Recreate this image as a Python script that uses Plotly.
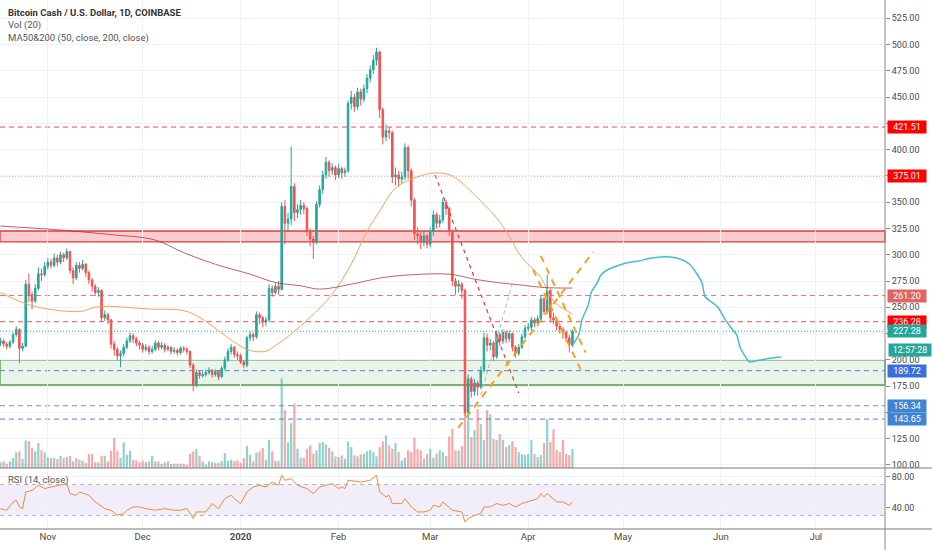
import pandas as pd
import plotly.graph_objects as go

### Data ---------------------------------------------------------
# BCH/USD daily candles, 17 Oct 2019 -> 15 Apr 2020
first_day = "2019-10-17"

opens = [216, 218, 215, 213, 217, 224, 229, 211, 213, 272, 262, 256, 268, 282, 281,  # Oct
         289, 293, 290, 297, 293, 300, 297, 303, 285, 278, 290, 287, 291, 283, 276, 270, 264, 266, 240, 243, 238, 215, 210, 204, 206, 212, 218, 223, 220, 216,  # Nov
         214, 210, 212, 208, 210, 216, 212, 214, 210, 212, 208, 209, 207, 211, 210, 208, 195, 176, 188, 185, 186, 188, 190, 186, 189, 184, 192, 200, 208, 212, 205,  # Dec
         204, 198, 195, 221, 224, 222, 243, 240, 236, 238, 268, 264, 270, 267, 346, 330, 334, 365, 340, 343, 347, 344, 322, 315, 312, 348, 362, 376, 388, 380, 383,  # Jan
         376, 382, 378, 380, 444, 450, 441, 455, 448, 458, 468, 476, 485, 493, 438, 412, 418, 416, 374, 376, 372, 374, 402, 380, 352, 320, 318, 312, 318,  # Feb
         310, 322, 338, 330, 333, 350, 344, 322, 275, 270, 272, 266, 150, 182, 170, 178, 174, 190, 221, 214, 216, 203, 224, 218, 226, 220, 225, 212, 206, 212, 222,  # Mar
         230, 231, 238, 235, 239, 258, 246, 266, 240, 238, 232, 229, 226, 221, 214]  # Apr

highs = [221, 220, 217, 219, 226, 232, 230, 216, 276, 282, 265, 272, 288, 287, 293,
         297, 296, 301, 300, 303, 302, 306, 304, 288, 293, 293, 295, 292, 285, 278, 272, 269, 267, 247, 245, 239, 218, 212, 209, 215, 221, 226, 225, 222, 218,
         216, 215, 214, 213, 219, 218, 217, 216, 214, 213, 212, 211, 213, 213, 212, 209, 197, 191, 190, 189, 191, 193, 191, 191, 190, 194, 203, 211, 215, 213, 208,
         206, 200, 223, 227, 226, 246, 245, 242, 241, 272, 271, 273, 275, 350, 352, 340, 403, 368, 348, 352, 350, 346, 325, 318, 351, 366, 380, 393, 390, 387, 385,
         386, 384, 383, 447, 456, 453, 459, 458, 462, 472, 480, 490, 497, 494, 440, 424, 421, 418, 383, 380, 379, 406, 404, 382, 354, 326, 322, 322, 320,
         326, 342, 340, 338, 354, 352, 346, 324, 278, 276, 274, 268, 186, 184, 182, 180, 194, 226, 225, 220, 218, 228, 226, 229, 228, 228, 226, 214, 215, 225, 233,
         235, 241, 240, 242, 262, 260, 281, 268, 245, 240, 235, 231, 228, 224, 229]

lows = [213, 212, 210, 211, 215, 222, 197, 208, 212, 255, 248, 254, 266, 275, 279,
        286, 287, 288, 289, 291, 293, 295, 282, 272, 276, 283, 285, 279, 272, 265, 261, 260, 236, 237, 234, 211, 204, 199, 193, 203, 210, 216, 216, 213, 210,
        207, 208, 205, 206, 208, 209, 210, 207, 208, 205, 206, 204, 205, 207, 205, 192, 170, 174, 182, 183, 184, 186, 183, 184, 181, 183, 190, 198, 205, 202, 200,
        196, 192, 193, 218, 218, 220, 234, 231, 232, 236, 260, 262, 262, 266, 310, 322, 328, 332, 335, 338, 339, 318, 308, 296, 310, 345, 358, 372, 374, 376, 371,
        373, 372, 374, 378, 438, 436, 438, 442, 445, 454, 464, 472, 480, 430, 405, 408, 410, 368, 366, 365, 368, 371, 372, 346, 314, 310, 305, 308, 306,
        307, 318, 325, 326, 330, 338, 318, 270, 262, 264, 258, 147, 143.65, 164, 166, 166, 172, 188, 208, 209, 199, 201, 213, 215, 216, 217, 208, 202, 204, 210, 220,
        227, 228, 231, 232, 237, 243, 244, 236, 234, 228, 225, 220, 217, 207, 212]

closes = [218, 215, 213, 217, 224, 229, 211, 213, 272, 262, 256, 268, 282, 281, 289,
          293, 290, 297, 293, 300, 297, 303, 285, 278, 290, 287, 291, 283, 276, 270, 264, 266, 240, 243, 238, 215, 210, 204, 206, 212, 218, 223, 220, 216, 214,
          210, 212, 208, 210, 216, 212, 214, 210, 212, 208, 209, 207, 211, 210, 208, 195, 176, 188, 185, 186, 188, 190, 186, 189, 184, 192, 200, 208, 212, 205, 204,
          198, 195, 221, 224, 222, 243, 240, 236, 238, 268, 264, 270, 267, 346, 330, 334, 365, 340, 343, 347, 344, 322, 315, 312, 348, 362, 376, 388, 380, 383, 376,
          382, 378, 380, 444, 450, 441, 455, 448, 458, 468, 476, 485, 493, 438, 412, 418, 416, 374, 376, 372, 374, 402, 380, 352, 320, 318, 312, 318, 310,
          322, 338, 330, 333, 350, 344, 322, 275, 270, 272, 266, 150, 182, 170, 178, 174, 190, 221, 214, 216, 203, 224, 218, 226, 220, 225, 212, 206, 212, 222, 230,
          231, 238, 235, 239, 258, 246, 266, 240, 238, 232, 229, 226, 221, 214, 227.28]

# volume in thousand BCH (rough bar heights)
volume = [5.7, 6.7, 4.3, 6.7, 10, 15.7, 16.7, 9, 27.7, 27, 20,
          16.7, 25, 17.7, 15.7, 10.7, 10, 10, 9, 12.3, 10,
          11, 12.3, 6.7, 10, 8.3, 7.3, 5, 14.3, 14, 5.7,
          5.7, 12.3, 12.3, 6.7, 17.3, 30.3, 16.7, 10, 25.7, 13.3,
          17.3, 8.3, 7.7, 5.7, 7.3, 6, 6.7, 12.3, 6.7, 6.7,
          4.3, 5.7, 6.7, 4, 4.5, 4.3, 4.3, 4.3, 3.3, 14.3,
          16.7, 19, 12.3, 6.7, 3.3, 6.7, 6, 5, 5, 6.7,
          15, 7.3, 8.3, 6.7, 7.7, 5, 10, 22.3, 13.3, 6.7,
          15.7, 16.7, 20, 8.3, 28.3, 16.7, 7.3, 7.3, 90, 58.3,
          25.7, 45, 64.3, 19.3, 10.3, 10.3, 19.3, 22.7, 14.3, 17.7,
          25, 26, 23.7, 20.3, 16.7, 11.7, 11, 12.7, 9.3, 26.7,
          21, 12.7, 11.7, 13.7, 14.3, 16.7, 18.3, 16, 11.7, 21,
          26.7, 32.7, 22.7, 19.3, 25, 16, 7.7, 10.3, 17.7, 16,
          30.3, 19.3, 17.7, 9.3, 14.3, 19.3, 10.3, 14.3, 17.7, 16,
          12, 31.7, 39.3, 17.7, 17.7, 22, 62, 48, 31, 38,
          59, 44, 28, 58, 54, 29, 28, 34, 28, 21,
          23, 27, 21, 16, 14, 13, 14, 28, 14, 11,
          13, 25, 49, 26, 39, 18, 16, 28, 14, 13, 19]

# moving averages (sampled off the chart)
ma50_dates = ["2019-10-17", "2019-10-27", "2019-11-11", "2019-11-17", "2019-12-03", "2019-12-14",
              "2019-12-19", "2019-12-25", "2019-12-30", "2020-01-04", "2020-01-09", "2020-01-12",
              "2020-01-17", "2020-01-23", "2020-01-30", "2020-02-05", "2020-02-10", "2020-02-14",
              "2020-02-19", "2020-02-25", "2020-03-02", "2020-03-07", "2020-03-10", "2020-03-17",
              "2020-03-22", "2020-03-25", "2020-03-30", "2020-04-05", "2020-04-09", "2020-04-15"]
ma50 = [264, 251.5, 246, 250.6, 248.4, 246.8, 240.4, 227.8, 216.8, 208.9, 208.2, 213.6,
        224.7, 240.4, 262.6, 291, 322.5, 341.5, 363.5, 373, 377.8, 376.2, 371, 351,
        335, 322.5, 297.3, 278.3, 256, 243.7]

ma200_dates = ["2019-10-17", "2019-11-03", "2019-11-20", "2019-12-05", "2019-12-14", "2019-12-24",
               "2020-01-04", "2020-01-12", "2020-01-20", "2020-01-26", "2020-02-05", "2020-02-15",
               "2020-02-24", "2020-03-07", "2020-03-15", "2020-03-22", "2020-03-30", "2020-04-06",
               "2020-04-15"]
ma200 = [327.3, 324, 319.4, 314, 302, 291, 281.5, 273.6, 270.5, 267.3, 272, 278.3,
         280.9, 281.5, 276.8, 273.6, 271.1, 268.8, 268.3]

# RSI(14)
rsi_dates = ["2019-10-17", "2019-10-19", "2019-10-21", "2019-10-22", "2019-10-23", "2019-10-24",
             "2019-10-25", "2019-10-27", "2019-10-29", "2019-10-31", "2019-11-02", "2019-11-05",
             "2019-11-07", "2019-11-08", "2019-11-10", "2019-11-11", "2019-11-14", "2019-11-16",
             "2019-11-19", "2019-11-21", "2019-11-23", "2019-11-25", "2019-11-26", "2019-11-28",
             "2019-11-30", "2019-12-02", "2019-12-05", "2019-12-08", "2019-12-11", "2019-12-13",
             "2019-12-15", "2019-12-17", "2019-12-18", "2019-12-21", "2019-12-23", "2019-12-25",
             "2019-12-27", "2019-12-29", "2019-12-30", "2020-01-01", "2020-01-03", "2020-01-05",
             "2020-01-07", "2020-01-09", "2020-01-11", "2020-01-13", "2020-01-14", "2020-01-15",
             "2020-01-17", "2020-01-19", "2020-01-22", "2020-01-24", "2020-01-26", "2020-01-28",
             "2020-01-30", "2020-02-01", "2020-02-02", "2020-02-03", "2020-02-04", "2020-02-08",
             "2020-02-11", "2020-02-13", "2020-02-14", "2020-02-16", "2020-02-17", "2020-02-18",
             "2020-02-21", "2020-02-22", "2020-02-24", "2020-02-26", "2020-02-28", "2020-03-01",
             "2020-03-02", "2020-03-04", "2020-03-05", "2020-03-08", "2020-03-11", "2020-03-12",
             "2020-03-13", "2020-03-15", "2020-03-17", "2020-03-18", "2020-03-20", "2020-03-22",
             "2020-03-24", "2020-03-26", "2020-03-28", "2020-03-30", "2020-04-02", "2020-04-04",
             "2020-04-05", "2020-04-06", "2020-04-07", "2020-04-10", "2020-04-12", "2020-04-14",
             "2020-04-15"]
rsi = [38.8, 36.7, 47.4, 49.6, 41.0, 38.8,
       60.3, 62.4, 68.9, 64.6, 66.7, 68.9,
       71.0, 58.2, 56.0, 60.3, 56.0, 47.4,
       38.8, 36.7, 30.2, 32.4, 36.7, 41.0,
       41.0, 38.8, 36.7, 38.8, 36.7, 36.7,
       38.8, 25.9, 34.5, 34.5, 45.3, 38.8,
       51.7, 56.0, 51.7, 45.3, 60.3, 66.7,
       68.9, 66.7, 73.1, 68.9, 81.8, 75.3,
       77.5, 68.9, 64.6, 58.2, 66.7, 68.9,
       71.0, 64.6, 66.7, 64.6, 75.3, 73.1,
       75.3, 81.8, 60.3, 53.9, 56.0, 45.3,
       45.3, 51.7, 41.0, 34.5, 34.5, 36.7,
       43.1, 41.0, 47.4, 36.7, 34.5, 21.6,
       25.9, 30.2, 32.4, 41.0, 41.0, 45.3,
       43.1, 45.3, 41.0, 45.3, 49.6, 51.7,
       58.2, 53.9, 58.2, 47.4, 47.4, 43.1,
       47.4]

# horizontal levels drawn on the chart
resist_zone = [312.2, 322.6]
support_zone = [176.1, 199.9]
level_prices = [421.51, 375.01, 261.20, 236.28, 227.28, 189.72, 156.34, 143.65]

# price scale: labels hidden where a level label sits on them
price_ticks = [100, 125, 150, 175, 200, 225, 250, 275, 300, 325, 350, 375, 400, 425, 450, 475, 500, 525]
price_tick_text = ["100.00", "125.00", "", "175.00", "200.00", "", "250.00", "275.00", "300.00", "325.00",
                   "350.00", "", "400.00", "", "450.00", "475.00", "500.00", "525.00"]

# hand drawn trend lines: (start date, start price, end date, end price)
red_trend = ["2020-03-02 12:00", 376, "2020-03-29", 168.5]
grey_trend = ["2020-03-17", 166.6, "2020-03-27 08:00", 276]
orange_rise = ["2020-03-09 20:00", 135.2, "2020-04-21 14:00", 302.6]
orange_fall_a = ["2020-04-05", 299, "2020-04-19 04:00", 207]
orange_fall_b = ["2020-04-02 12:00", 286, "2020-04-17 14:00", 191]

# projected path (cyan freehand)
proj_dates = ["2020-04-15", "2020-04-17", "2020-04-18", "2020-04-20", "2020-04-21", "2020-04-23",
              "2020-04-24", "2020-04-26", "2020-04-29", "2020-05-02", "2020-05-06", "2020-05-10",
              "2020-05-13", "2020-05-16", "2020-05-19", "2020-05-22", "2020-05-24", "2020-05-26",
              "2020-05-27", "2020-05-29", "2020-05-31", "2020-06-02", "2020-06-04", "2020-06-06",
              "2020-06-07", "2020-06-09", "2020-06-10", "2020-06-12", "2020-06-17", "2020-06-20"]
proj_prices = [214, 223.7, 238, 252.2, 264.6, 274.1,
               280.8, 285.5, 289.3, 292.2, 294.1, 296.9,
               297.9, 297.9, 296, 291.2, 283.6, 273.2,
               259.8, 255.1, 250.3, 239.9, 231.3, 223.7,
               212.3, 201.8, 198, 198.9, 201.8, 202.8]

month_ticks = ["2019-11-01", "2019-12-01", "2020-01-01", "2020-02-01", "2020-03-01",
               "2020-04-01", "2020-05-01", "2020-06-01", "2020-07-01"]
month_labels = ["Nov", "Dec", "<b>2020</b>", "Feb", "Mar", "Apr", "May", "Jun", "Jul"]

dates = pd.date_range(first_day, periods=len(closes), freq="D")
for arr in (opens, highs, lows, volume):
    if len(arr) != len(closes):
        raise ValueError("length mismatch %d vs %d" % (len(arr), len(closes)))

### Style ----------------------------------------------------------
UP = "#26a69a"
DOWN = "#ef5350"
GRID = "#eef1f6"
TXT = "#4a4a4a"
FONT = "Roboto"

level_styles = [  # line colour, dash, label colour
    ("#ef4b5a", "5px,4px", "#ff0000"),
    ("#ef4b5a", "1px,2px", "#ff0000"),
    ("#ea6f7a", "5px,4px", "#e06666"),
    ("#ef4b5a", "5px,4px", "#ff0000"),
    ("#26a69a", "1px,2px", UP),
    ("#5b7fcf", "5px,4px", "#3770dd"),
    ("#7d8bb5", "5px,4px", "#3f83d3"),
    ("#5b7fcf", "5px,4px", "#3f83d3"),
]

fig = go.Figure()

vol_colors = ["rgba(38,166,154,0.5)" if c >= o else "rgba(239,83,80,0.5)" for o, c in zip(opens, closes)]
fig.add_trace(go.Bar(x=dates, y=volume, marker_color=vol_colors, marker_line_width=0,
                     width=0.7 * 86400000, xaxis="x", yaxis="y3", hoverinfo="skip"))

fig.add_trace(go.Candlestick(x=dates, open=opens, high=highs, low=lows, close=closes,
                             increasing=dict(line=dict(color=UP, width=1), fillcolor=UP),
                             decreasing=dict(line=dict(color=DOWN, width=1), fillcolor=DOWN),
                             whiskerwidth=0, xaxis="x", yaxis="y"))

fig.add_trace(go.Scatter(x=ma50_dates, y=ma50, mode="lines", line=dict(color="#f7a25a", width=1, shape="spline"),
                         xaxis="x", yaxis="y"))
fig.add_trace(go.Scatter(x=ma200_dates, y=ma200, mode="lines",
                         line=dict(color="rgba(165,45,70,0.75)", width=1, shape="spline"),
                         xaxis="x", yaxis="y"))
fig.add_trace(go.Scatter(x=proj_dates, y=proj_prices, mode="lines",
                         line=dict(color="#45bcd4", width=1.5, shape="spline", smoothing=0.6),
                         xaxis="x", yaxis="y"))

fig.add_trace(go.Scatter(x=rsi_dates, y=rsi, mode="lines", line=dict(color="#f08a3c", width=1),
                         xaxis="x2", yaxis="y2"))

shapes = []
# zones
shapes.append(dict(type="rect", xref="paper", yref="y", x0=0, x1=1, y0=resist_zone[0], y1=resist_zone[1],
                   fillcolor="rgba(242,54,69,0.25)", line=dict(color="#e53935", width=1.3), layer="below"))
shapes.append(dict(type="rect", xref="paper", yref="y", x0=0, x1=1, y0=support_zone[0], y1=support_zone[1],
                   fillcolor="rgba(76,175,80,0.12)", line=dict(color="#5a9a48", width=1.3), layer="below"))
for p, (lc, dash, _) in zip(level_prices, level_styles):
    shapes.append(dict(type="line", xref="paper", yref="y", x0=0, x1=1, y0=p, y1=p,
                       line=dict(color=lc, width=1, dash=dash), layer="below"))

# trend lines
for tl, col, w, dash in [(red_trend, "#e53935", 1.2, "4px,4px"),
                         (grey_trend, "#b5b5b5", 1, "4px,3px"),
                         (orange_rise, "#f7a21b", 2, "7px,6px"),
                         (orange_fall_a, "#f7a21b", 2, "7px,6px"),
                         (orange_fall_b, "#f7a21b", 2, "7px,6px")]:
    shapes.append(dict(type="line", xref="x", yref="y", x0=tl[0], y0=tl[1], x1=tl[2], y1=tl[3],
                       line=dict(color=col, width=w, dash=dash)))

# RSI band
shapes.append(dict(type="rect", xref="paper", yref="y2", x0=0, x1=1, y0=30, y1=70,
                   fillcolor="rgba(149,117,205,0.12)", line=dict(width=0), layer="below"))
for lv in (30, 70):
    shapes.append(dict(type="line", xref="paper", yref="y2", x0=0, x1=1, y0=lv, y1=lv,
                       line=dict(color="#b0b0b8", width=1, dash="4px,4px")))

# pane borders and price scale line
for yy in (0.1153, 0):
    shapes.append(dict(type="line", xref="paper", yref="paper", x0=0, x1=1.06, y0=yy, y1=yy,
                       line=dict(color="#7a7a7a", width=1.2)))
shapes.append(dict(type="line", xref="paper", yref="paper", x0=1, x1=1, y0=-0.05, y1=1,
                   line=dict(color="#8a8a8a", width=1)))

annotations = []
for i, txt in enumerate(["<b>Bitcoin Cash / U.S. Dollar, 1D, COINBASE</b>", "Vol (20)",
                         "MA50&200 (50, close, 200, close)"]):
    annotations.append(dict(xref="paper", yref="paper", x=0.0065, y=1 - (12.7 + 12.6 * i) / 529,
                            xanchor="left", yanchor="middle", showarrow=False, text=txt,
                            font=dict(family=FONT, size=9.5, color="#333" if i == 0 else "#555")))
annotations.append(dict(xref="paper", yref="paper", x=0.0065, y=1 - 480 / 529, xanchor="left",
                        yanchor="middle", showarrow=False, text="RSI (14, close)",
                        font=dict(family=FONT, size=9.5, color="#555")))

for p, (_, _, bg) in zip(level_prices, level_styles):
    annotations.append(dict(xref="paper", yref="y", x=1, y=p, xanchor="left", yanchor="middle",
                            xshift=2, showarrow=False, text="%.2f" % p, bgcolor=bg, width=36, height=10,
                            borderpad=1, font=dict(family=FONT, size=9, color="white")))
annotations.append(dict(xref="paper", yref="y", x=1, y=209.5, xanchor="left", yanchor="middle",
                        xshift=3, showarrow=False, text="12:57:28", bgcolor=UP, width=40, height=10,
                        borderpad=1, font=dict(family=FONT, size=9, color="white")))

x_range = ["2019-10-16 20:40", "2020-07-22 21:40"]

fig.update_layout(
    width=932, height=550,
    margin=dict(l=0, r=47, t=0, b=21),
    paper_bgcolor="white", plot_bgcolor="white",
    showlegend=False,
    font=dict(family=FONT, size=9.5, color=TXT),
    shapes=shapes, annotations=annotations,
    xaxis=dict(domain=[0, 1], anchor="y", range=x_range, type="date", tickvals=month_ticks,
               showticklabels=False, showgrid=True, gridcolor=GRID, zeroline=False,
               rangeslider=dict(visible=False), ticks=""),
    xaxis2=dict(domain=[0, 1], anchor="y2", range=x_range, type="date", matches="x",
                tickvals=month_ticks, ticktext=month_labels, showgrid=True, gridcolor=GRID,
                zeroline=False, ticks="", tickfont=dict(size=9.5, color=TXT)),
    yaxis=dict(domain=[0.1153, 1], anchor="x", side="right", range=[97.1, 542.4],
               tickvals=price_ticks, ticktext=price_tick_text, ticks="outside", ticklen=4,
               tickcolor="#8a8a8a", showgrid=True, gridcolor=GRID, zeroline=False,
               tickfont=dict(size=9, color=TXT)),
    yaxis3=dict(overlaying="y", anchor="x", range=[0, 470], visible=False),
    yaxis2=dict(domain=[0, 0.1115], anchor="x2", side="right", range=[12.5, 88.6],
                tickvals=[40, 80], ticktext=["40.00", "80.00"], ticks="outside", ticklen=4,
                tickcolor="#8a8a8a", showgrid=True, gridcolor=GRID, zeroline=False,
                tickfont=dict(size=9, color=TXT)),
)

# the page body has a default 8px margin; drop it so the chart fills the window
fig.write_html("out.html", config={"displayModeBar": False},
               post_script="document.body.style.margin='0';document.body.style.overflow='hidden';")
